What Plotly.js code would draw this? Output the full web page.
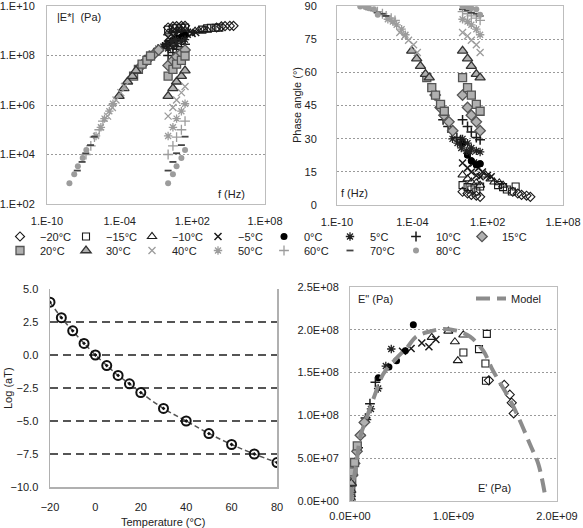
<!DOCTYPE html>
<html><head><meta charset="utf-8">
<script src="https://cdn.plot.ly/plotly-3.0.1.min.js"></script>
<style>html,body{margin:0;padding:0;background:#fff}#chart{width:583px;height:528px}</style>
</head><body><div id="chart"></div>
<script>
// ---------------- data ----------------
const temps = [-20, -15, -10, -5, 0, 5, 10, 15, 20, 30, 40, 50, 60, 70, 80];
const tempLabels = ['−20°C','−15°C','−10°C','−5°C','0°C','5°C','10°C','15°C','20°C','30°C','40°C','50°C','60°C','70°C','80°C'];
const freqHz = [1, 2.5, 5, 12.5, 25];
const logShift = [4.0, 2.83, 1.83, 0.88, 0.0, -0.8, -1.55, -2.18, -2.85, -4.05, -5.0, -5.95, -6.78, -7.5, -8.15];

// log10 |E*| (Pa) per temperature, at freqHz
const logModM20 = [9.13, 9.175, 9.19, 9.195, 9.2];
const logModM15 = [9.045, 9.10, 9.12, 9.121, 9.126];
const logModM10 = [8.91, 8.987, 9.013, 9.046, 9.023];
const logModM5  = [8.73, 8.79, 8.856, 8.894, 8.93];
const logMod0   = [8.49, 8.61, 8.68, 8.75, 8.81];
const logMod5   = [8.28, 8.36, 8.48, 8.58, 8.64];
const logMod10  = [8.0, 8.12, 8.25, 8.35, 8.45];
const logMod15  = [7.6, 7.8, 7.95, 8.1, 8.22];
const logMod20  = [7.17, 7.44, 7.65, 7.8, 7.98];
const logMod30  = [6.36, 6.67, 6.94, 7.17, 7.39];
const logMod40  = [5.55, 5.9, 6.2, 6.5, 6.75];
const logMod50  = [4.75, 5.1, 5.45, 5.75, 6.05];
const logMod60  = [4.0, 4.35, 4.7, 5.0, 5.35];
const logMod70  = [3.35, 3.7, 4.05, 4.38, 4.72];
const logMod80  = [2.84, 3.2, 3.53, 3.86, 4.18];

// phase angle (deg) per temperature, at freqHz
const phaseM20 = [6.0, 5.2, 4.6, 4.2, 3.7];
const phaseM15 = [9.0, 8.1, 7.0, 6.1, 8.4];
const phaseM10 = [13.6, 11.8, 10.4, 10.05, 8.95];
const phaseM5  = [19.0, 16.8, 14.9, 13.3, 12.8];
const phase0   = [27.8, 22.6, 20.0, 18.2, 18.6];
const phase5   = [29.9, 28.0, 25.8, 24.5, 24.0];
const phase10  = [38.5, 35.5, 33.0, 30.5, 29.5];
const phase15  = [49.7, 44.1, 40.6, 37.6, 33.6];
const phase20  = [57.6, 53.1, 49.7, 45.5, 42.4];
const phase30  = [69.7, 66.2, 62.8, 59.2, 57.6];
const phase40  = [78.0, 76.5, 74.5, 72.5, 69.0];
const phase50  = [84.0, 83.0, 81.5, 79.5, 77.0];
const phase60  = [87.5, 86.5, 85.5, 84.5, 83.5];
const phase70  = [88.5, 88.0, 87.0, 86.5, 85.5];
const phase80  = [89.8, 89.5, 89.0, 88.5, 86.0];

// Cole-Cole model curve
const modelStorage = [0, 0.065e9, 0.097e9, 0.16e9, 0.24e9, 0.32e9, 0.45e9, 0.55e9, 0.64e9, 0.77e9, 0.90e9, 1.03e9, 1.16e9, 1.29e9, 1.37e9, 1.43e9, 1.55e9, 1.63e9, 1.74e9, 1.82e9, 1.88e9];
const modelLoss    = [0, 0.47e8, 0.74e8, 0.97e8, 1.24e8, 1.48e8, 1.67e8, 1.79e8, 1.92e8, 1.98e8, 2.01e8, 1.99e8, 1.92e8, 1.75e8, 1.55e8, 1.42e8, 1.17e8, 0.97e8, 0.66e8, 0.43e8, 0.10e8];

const logModulus = [logModM20, logModM15, logModM10, logModM5, logMod0, logMod5, logMod10, logMod15, logMod20, logMod30, logMod40, logMod50, logMod60, logMod70, logMod80];
const phaseDeg = [phaseM20, phaseM15, phaseM10, phaseM5, phase0, phase5, phase10, phase15, phase20, phase30, phase40, phase50, phase60, phase70, phase80];

// ---------------- styles ----------------
const dk = '#1a1a1a', gr = '#b0b0b0', gline = '#555555', lg = '#9c9c9c';
const markerStyles = [
  {symbol:'diamond-open', size:7, color:dk, line:{color:dk, width:1.1}},
  {symbol:'square-open', size:7, color:dk, line:{color:dk, width:1.1}},
  {symbol:'triangle-up-open', size:8, color:dk, line:{color:dk, width:1.1}},
  {symbol:'x-thin-open', size:7, color:dk, line:{color:dk, width:1.5}},
  {symbol:'circle', size:7, color:'#000', line:{color:'#000', width:0}},
  {symbol:'asterisk-open', size:7, color:'#222', line:{color:'#222', width:1.3}},
  {symbol:'cross-thin-open', size:7, color:dk, line:{color:dk, width:1.5}},
  {symbol:'diamond', size:8, color:gr, line:{color:gline, width:1.3}},
  {symbol:'square', size:8, color:gr, line:{color:gline, width:1.3}},
  {symbol:'triangle-up', size:9, color:gr, line:{color:'#333', width:1.3}},
  {symbol:'x-thin-open', size:7, color:lg, line:{color:lg, width:1.3}},
  {symbol:'asterisk-open', size:7, color:lg, line:{color:lg, width:1.3}},
  {symbol:'cross-thin-open', size:7, color:lg, line:{color:lg, width:1.3}},
  {symbol:'line-ew-open', size:5, color:'#444', line:{color:'#444', width:1.8}},
  {symbol:'circle', size:6, color:lg, line:{color:lg, width:0}}
];

const fontFam = 'Arial, "Liberation Sans", sans-serif';
const tickFont = {family: fontFam, size: 11, color: '#222'};

// ---------------- traces ----------------
const traces = [];
temps.forEach((t, i) => {
  const shift = Math.pow(10, logShift[i]);
  const reduced = freqHz.map(f => f * shift);
  const fx = freqHz.concat(reduced);
  const mod = logModulus[i].map(v => Math.pow(10, v));
  const ph = phaseDeg[i];
  traces.push({type:'scatter', mode:'markers', x:fx, y:mod.concat(mod), xaxis:'x', yaxis:'y',
    name:tempLabels[i], legendgroup:'g'+i, legend: i < 8 ? 'legend' : 'legend3',
    marker: markerStyles[i], showlegend:true, hoverinfo:'skip'});
  traces.push({type:'scatter', mode:'markers', x:fx, y:ph.concat(ph), xaxis:'x2', yaxis:'y2',
    name:tempLabels[i], legendgroup:'g'+i, marker: markerStyles[i], showlegend:false, hoverinfo:'skip'});
  traces.push({type:'scatter', mode:'markers',
    x: mod.map((e, j) => e * Math.cos(ph[j] * Math.PI / 180)),
    y: mod.map((e, j) => e * Math.sin(ph[j] * Math.PI / 180)),
    xaxis:'x4', yaxis:'y4', name:tempLabels[i], legendgroup:'g'+i,
    marker: markerStyles[i], showlegend:false, hoverinfo:'skip'});
});
traces.push({type:'scatter', mode:'lines', x:modelStorage, y:modelLoss, xaxis:'x4', yaxis:'y4',
  name:'Model', legend:'legend2', line:{color:'#8c8c8c', width:4, dash:'14px,7px', shape:'spline'}, hoverinfo:'skip'});
traces.push({type:'scatter', mode:'lines+markers', x:temps, y:logShift, xaxis:'x3', yaxis:'y3', showlegend:false,
  line:{color:'#555', width:1.5, dash:'5px,3px', shape:'spline'},
  marker:{symbol:'circle-open-dot', size:9, color:'#111', line:{color:'#111', width:2}}, hoverinfo:'skip'});

// ---------------- layout ----------------
const W = 583, H = 528;
const px = v => v / W, py = v => 1 - v / H;
const dotted = '2px,2px';
const frame = {showline:true, mirror:true, linecolor:'#bdbdbd', linewidth:1, ticks:'', zeroline:false,
  tickfont:tickFont, fixedrange:true, ticklabeloverflow:'allow'};

const legendBase = {orientation:'h', xanchor:'left', yanchor:'top', entrywidth:21, entrywidthmode:'pixels',
  bgcolor:'rgba(0,0,0,0)', font:{family:fontFam, size:11, color:'#222'}, traceorder:'normal', itemclick:false, itemdoubleclick:false};

const layout = {
  width:W, height:H, margin:{l:0, r:0, t:0, b:0}, paper_bgcolor:'#fff', plot_bgcolor:'#fff',
  font:{family:fontFam, size:11, color:'#222'}, hovermode:false,
  xaxis: Object.assign({}, frame, {domain:[px(47), px(265)], anchor:'y', type:'log', range:[-10, 8],
    tickvals:[1e-10, 1e-4, 1e2, 1e8], ticktext:['1.E-10','1.E-04','1.E+02','1.E+08'], showgrid:false, ticklabelstandoff:7}),
  yaxis: Object.assign({}, frame, {domain:[py(204), py(6)], anchor:'x', type:'log', range:[2, 10],
    tickvals:[1e2, 1e4, 1e6, 1e8, 1e10], ticktext:['1.E+02','1.E+04','1.E+06','1.E+08','1.E+10'],
    showgrid:true, gridcolor:'#9a9a9a', griddash:dotted, gridwidth:1, ticklabelstandoff:9}),
  xaxis2: Object.assign({}, frame, {domain:[px(337), px(563)], anchor:'y2', type:'log', range:[-10, 8],
    tickvals:[1e-10, 1e-4, 1e2, 1e8], ticktext:['1.E-10','1.E-04','1.E+02','1.E+08'], showgrid:false, ticklabelstandoff:7}),
  yaxis2: Object.assign({}, frame, {domain:[py(205), py(6)], anchor:'x2', range:[0, 90],
    tickvals:[0, 15, 30, 45, 60, 75, 90], showgrid:true, gridcolor:'#9a9a9a', griddash:dotted, gridwidth:1, ticklabelstandoff:17}),
  xaxis3: {domain:[px(50), px(277)], anchor:'y3', range:[-20, 80], tickvals:[-20, 0, 20, 40, 60, 80],
    ticktext:['−20','0','20','40','60','80'], showgrid:false, showline:true, linecolor:'#b0b0b0', linewidth:1.5,
    ticks:'', zeroline:false, tickfont:tickFont, fixedrange:true, ticklabelstandoff:9, ticklabeloverflow:'allow'},
  yaxis3: {domain:[py(487), py(289)], anchor:'x3', range:[-10, 5], tickvals:[-10, -7.5, -5, -2.5, 0, 2.5, 5],
    ticktext:['−10.0','−7.5','−5.0','−2.5','0.0','2.5','5.0'], showgrid:true, gridcolor:'#555', griddash:'8px,5px', gridwidth:1.3,
    showline:true, mirror:true, linecolor:'#b0b0b0', linewidth:1.5, ticks:'', zeroline:false, tickfont:tickFont, fixedrange:true,
    ticklabelstandoff:8, ticklabeloverflow:'allow'},
  xaxis4: Object.assign({}, frame, {domain:[px(350), px(557)], anchor:'y4', range:[0, 2e9],
    tickvals:[0, 1e9, 2e9], ticktext:['0.0E+00','1.0E+09','2.0E+09'], showgrid:false, ticklabelstandoff:5}),
  yaxis4: Object.assign({}, frame, {domain:[py(501), py(287)], anchor:'x4', range:[0, 2.5e8],
    tickvals:[0, 5e7, 1e8, 1.5e8, 2e8, 2.5e8], ticktext:['0.0E+00','5.0E+07','1.0E+08','1.5E+08','2.0E+08','2.5E+08'],
    showgrid:true, gridcolor:'#9a9a9a', griddash:dotted, gridwidth:1, ticklabelstandoff:8}),
  legend: Object.assign({}, legendBase, {x:0, y:py(222)}),
  legend3: Object.assign({}, legendBase, {x:0, y:py(236)}),
  legend2: {x:px(471), y:py(284), xanchor:'left', yanchor:'top', bgcolor:'rgba(0,0,0,0)',
    font:{family:fontFam, size:11, color:'#222'}, itemclick:false, itemdoubleclick:false},
  annotations: [
    {text:'|E*|  (Pa)', xref:'paper', yref:'paper', x:px(55), y:py(17), xanchor:'left', yanchor:'middle', showarrow:false, font:{family:fontFam, size:11, color:'#222'}},
    {text:'f (Hz)', xref:'paper', yref:'paper', x:px(231), y:py(194), xanchor:'center', yanchor:'middle', showarrow:false, font:{family:fontFam, size:11, color:'#222'}},
    {text:'f (Hz)', xref:'paper', yref:'paper', x:px(354), y:py(193), xanchor:'center', yanchor:'middle', showarrow:false, font:{family:fontFam, size:11, color:'#222'}},
    {text:'Phase angle (°)', xref:'paper', yref:'paper', x:px(297), y:py(105), xanchor:'center', yanchor:'middle', textangle:-90, showarrow:false, font:{family:fontFam, size:11, color:'#222'}},
    {text:'Log (aT)', xref:'paper', yref:'paper', x:px(8), y:py(388), xanchor:'center', yanchor:'middle', textangle:-90, showarrow:false, font:{family:fontFam, size:11, color:'#222'}},
    {text:'Temperature (°C)', xref:'paper', yref:'paper', x:px(163), y:py(522), xanchor:'center', yanchor:'middle', showarrow:false, font:{family:fontFam, size:11, color:'#222'}},
    {text:'E" (Pa)', xref:'paper', yref:'paper', x:px(356), y:py(299), xanchor:'left', yanchor:'middle', showarrow:false, font:{family:fontFam, size:11, color:'#222'}},
    {text:"E' (Pa)", xref:'paper', yref:'paper', x:px(494), y:py(488), xanchor:'center', yanchor:'middle', showarrow:false, font:{family:fontFam, size:11, color:'#222'}}
  ]
};

Plotly.newPlot('chart', traces, layout, {staticPlot:true, displayModeBar:false});
</script>
</body></html>
